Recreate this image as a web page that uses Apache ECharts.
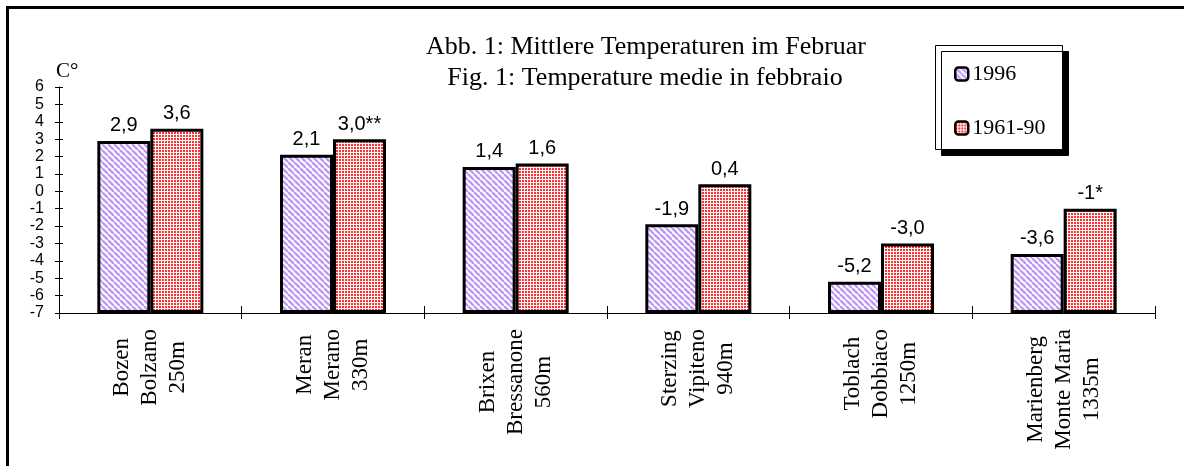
<!DOCTYPE html>
<html>
<head>
<meta charset="utf-8">
<script src="https://cdn.jsdelivr.net/npm/echarts@6/dist/echarts.min.js"></script>
<style>
  html, body { margin: 0; padding: 0; background: #fff; }
  #chart { width: 1184px; height: 466px; }
</style>
</head>
<body>
<div id="chart"></div>
<script>
// stations (one line per name / height)
const CATEGORIES = [
  'Bozen\nBolzano\n250m',
  'Meran\nMerano\n330m',
  'Brixen\nBressanone\n560m',
  'Sterzing\nVipiteno\n940m',
  'Toblach\nDobbiaco\n1250m',
  'Marienberg\nMonte Maria\n1335m'
];
const SERIES_NAMES = ['1996', '1961-90'];
const VALUES_1996 = [2.9, 2.1, 1.4, -1.9, -5.2, -3.6];
const VALUES_NORM = [3.6, 3.0, 1.6, 0.4, -3.0, -1.0];
const LABELS_1996 = ['2,9', '2,1', '1,4', '-1,9', '-5,2', '-3,6'];
const LABELS_NORM = ['3,6', '3,0**', '1,6', '0,4', '-3,0', '-1*'];
// y axis runs from -7 to 6, bars stand on the bottom of the axis
const Y_MIN = -7;
const Y_MAX = 6;

const TITLE_1 = 'Abb. 1: Mittlere Temperaturen im Februar';
const TITLE_2 = 'Fig. 1: Temperature medie in febbraio';

const SERIF = "'Liberation Serif', 'DejaVu Serif', serif";
const SANS = "'Liberation Sans', Arial, sans-serif";

// hatch patterns
function stripePattern() {
  const c = document.createElement('canvas');
  c.width = 6; c.height = 6;
  const ctx = c.getContext('2d');
  ctx.fillStyle = '#ffffff';
  ctx.fillRect(0, 0, 6, 6);
  ctx.strokeStyle = '#bf97f7';
  ctx.lineWidth = 2.3;
  for (let x0 = -12; x0 <= 12; x0 += 6) {
    ctx.beginPath();
    ctx.moveTo(x0, 0);
    ctx.lineTo(x0 + 6, 6);
    ctx.stroke();
  }
  return c;
}
function dotPattern() {
  const c = document.createElement('canvas');
  c.width = 3; c.height = 3;
  const ctx = c.getContext('2d');
  ctx.fillStyle = '#ffffff';
  ctx.fillRect(0, 0, 3, 3);
  ctx.fillStyle = '#ff3030';
  ctx.fillRect(0, 0, 2, 2);
  return c;
}

const shift = v => v - Y_MIN;

const chart = echarts.init(document.getElementById('chart'));

const barLabel = (texts) => ({
  show: true,
  position: 'top',
  distance: 5,
  color: '#000',
  fontFamily: SANS,
  fontSize: 20,
  formatter: p => texts[p.dataIndex]
});

const option = {
  animation: false,
  backgroundColor: '#fff',
  grid: { left: 59, right: 29, top: 87, bottom: 153 },
  graphic: [
    // frame
    { type: 'line', shape: { x1: 6, y1: 7.5, x2: 1184, y2: 7.5 }, style: { stroke: '#000', lineWidth: 3 } },
    { type: 'line', shape: { x1: 7.5, y1: 6, x2: 7.5, y2: 466 }, style: { stroke: '#000', lineWidth: 3 } },
    // titles
    { type: 'text', x: 646, y: 47, style: { text: TITLE_1, textAlign: 'center', textVerticalAlign: 'middle', font: '26px ' + SERIF, fill: '#000' } },
    { type: 'text', x: 645, y: 78, style: { text: TITLE_2, textAlign: 'center', textVerticalAlign: 'middle', font: '26px ' + SERIF, fill: '#000' } },
    // legend box with shadow
    { type: 'rect', z: 0, shape: { x: 935.5, y: 45.5, width: 127, height: 104 },
      style: { fill: '#fff', stroke: '#000', lineWidth: 1, shadowColor: '#000', shadowBlur: 0, shadowOffsetX: 6, shadowOffsetY: 6 } }
  ],
  legend: {
    z: 10,
    orient: 'vertical',
    left: 949,
    top: 58,
    itemWidth: 13,
    itemHeight: 13,
    itemGap: 32,
    textStyle: { color: '#000', fontFamily: SERIF, fontSize: 22, padding: [0, 0, 0, -1] },
    itemStyle: { borderWidth: 2.5 },
    data: SERIES_NAMES
  },
  xAxis: [
    {
      type: 'category',
      data: CATEGORIES,
      position: 'bottom',
      axisLine: { lineStyle: { color: '#000', width: 1 } },
      axisTick: { show: true, length: 6, lineStyle: { color: '#000' } },
      axisLabel: {
        rotate: 90,
        margin: 16,
        color: '#000',
        fontFamily: SERIF,
        fontSize: 23,
        lineHeight: 28,
        formatter: v => v.split('\n').map(s => '{c|' + s + '}').join('\n'),
        rich: { c: { align: 'center', fontFamily: SERIF, fontSize: 23, lineHeight: 28, color: '#000' } }
      }
    },
    {
      type: 'category',
      data: CATEGORIES,
      position: 'bottom',
      axisLine: { show: false },
      axisTick: { show: true, inside: true, length: 7, lineStyle: { color: '#000' } },
      axisLabel: { show: false }
    }
  ],
  yAxis: [
    {
      type: 'value',
      min: 0,
      max: Y_MAX - Y_MIN,
      interval: 1,
      position: 'left',
      name: 'C°',
      nameLocation: 'end',
      nameGap: 5,
      nameTextStyle: { color: '#000', fontFamily: SERIF, fontSize: 21, align: 'left', padding: [0, 0, 0, -3] },
      axisLine: { show: true, lineStyle: { color: '#000', width: 1 } },
      axisTick: { show: true, length: 4, lineStyle: { color: '#000' } },
      axisLabel: {
        margin: 15,
        color: '#000',
        fontFamily: "'Liberation Sans Narrow', " + SANS,
        fontSize: 16,
        formatter: v => String(v + Y_MIN)
      },
      splitLine: { show: false }
    },
    {
      type: 'value',
      min: 0,
      max: Y_MAX - Y_MIN,
      interval: 1,
      position: 'left',
      axisLine: { show: false },
      axisTick: { show: true, inside: true, length: 4, lineStyle: { color: '#000' } },
      axisLabel: { show: false },
      splitLine: { show: false }
    }
  ],
  series: [
    {
      name: SERIES_NAMES[0],
      type: 'bar',
      xAxisIndex: 0,
      yAxisIndex: 0,
      barWidth: 53,
      barGap: '0%',
      data: VALUES_1996.map(shift),
      itemStyle: { color: { image: stripePattern(), repeat: 'repeat' }, borderColor: '#000', borderWidth: 3 },
      label: barLabel(LABELS_1996)
    },
    {
      name: SERIES_NAMES[1],
      type: 'bar',
      xAxisIndex: 0,
      yAxisIndex: 0,
      barWidth: 53,
      barGap: '0%',
      data: VALUES_NORM.map(shift),
      itemStyle: { color: { image: dotPattern(), repeat: 'repeat' }, borderColor: '#000', borderWidth: 3 },
      label: barLabel(LABELS_NORM)
    }
  ]
};

chart.setOption(option);
</script>
</body>
</html>
